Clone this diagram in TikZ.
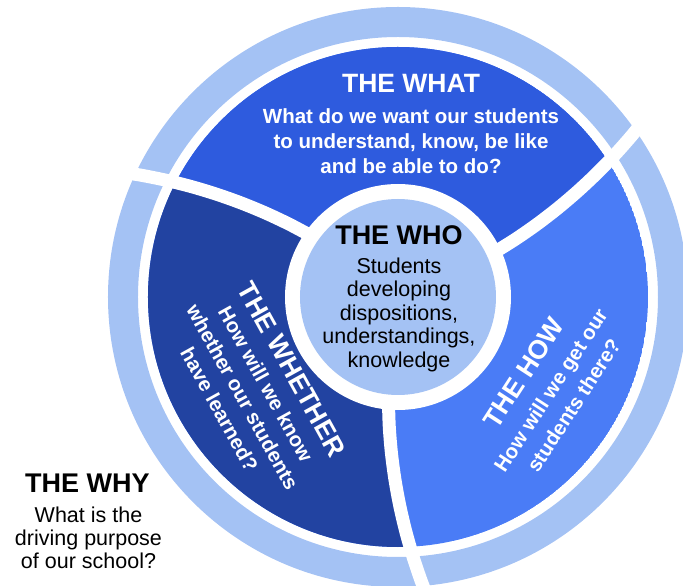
\documentclass[tikz,border=0pt]{standalone}
\usepackage{fontspec}
\setmainfont{Liberation Sans}
\usetikzlibrary{positioning}
\definecolor{ringblue}{HTML}{A4C2F4}
\definecolor{whatblue}{HTML}{2E5BDE}
\definecolor{whetherblue}{HTML}{2243A1}
\definecolor{howblue}{HTML}{4A7CF6}
% #1 angle at radius 100, #2 and #3 radius range
\newcommand{\spiral}[3]{-- plot[smooth,variable=\rad,domain=#2:#3,samples=9] ({#1+0.055*(\rad-100)}:\rad)}

\begin{document}
\begin{tikzpicture}[x=1pt, y=1pt,
    head/.style={font=\fontsize{26.5}{30}\selectfont\bfseries, inner sep=0pt, text=white},
    body/.style={font=\fontsize{20.5}{#1}\selectfont\bfseries, align=center, inner sep=0pt, anchor=north, text=white},
    darkhead/.style={font=\fontsize{27}{30}\selectfont\bfseries, inner sep=0pt, anchor=base},
    darkbody/.style={font=\fontsize{21.5}{#1}\selectfont, align=center, inner sep=0pt, anchor=north}]
    \useasboundingbox (-398,-289) rectangle (285,297);
    % outer ring and the three parts
    \fill[ringblue, even odd rule] (0,0) circle (290) (0,0) circle (260);
    \begin{scope}
        \clip (0,0) circle (250);
        \fill[howblue] (0,0) circle (250);
        \fill[whatblue] (0,0) \spiral{24.5}{100}{300} -- (60:600) -- (120:600) \spiral{144.5}{300}{100} -- cycle;
        \fill[whetherblue] (0,0) \spiral{144.5}{100}{300} -- (180:600) -- (240:600) \spiral{264.5}{300}{100} -- cycle;
    \end{scope}
    \fill[white] (0,0) circle (113);
    \fill[ringblue] (0,0) circle (98);
    \foreach \a in {24.5,144.5,264.5}
        \draw[white, line width=13pt] plot[smooth,variable=\rad,domain=105:310,samples=9] ({\a+0.055*(\rad-100)}:\rad);

    \node[head, anchor=base] (whathead) at (13,204) {THE WHAT};
    \node[body=25] (whatbody) at (13,188.8) {What do we want our students\\to understand, know, be like\\and be able to do?};

    \node[darkhead] (whohead) at (1,52) {THE WHO};
    \node[darkbody=23.5] (whobody) at (1,39.5) {Students\\developing\\dispositions,\\understandings,\\knowledge};

    \begin{scope}[rotate=-61, transform shape]
        \node[head] (whetherhead) at (12,-128) {THE WHETHER};
        \node[body=26.5] (whetherbody) at (12,-150) {How will we know\\whether our students\\have learned?};
    \end{scope}
    \begin{scope}[rotate=57, transform shape]
        \node[head] (howhead) at (5,-146.5) {THE HOW};
        \node[body=27.5] (howbody) at (5,-171) {How will we get our\\students there?};
    \end{scope}

    \node[darkhead] (whyhead) at (-310.5,-196) {THE WHY};
    \node[darkbody=23] (whybody) at (-309.5,-209.5) {What is the\\driving purpose\\of our school?};
\end{tikzpicture}
\end{document}
